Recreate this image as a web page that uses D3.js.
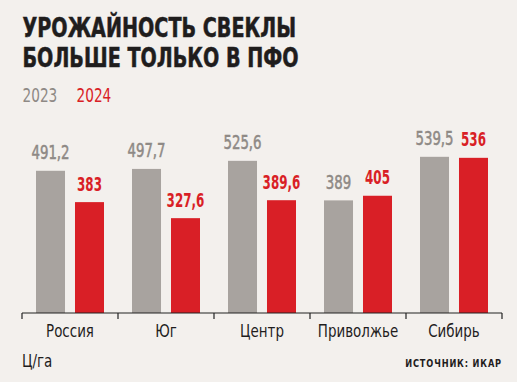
<!DOCTYPE html>
<html><head><meta charset="utf-8">
<script src="https://cdn.jsdelivr.net/npm/d3@7"></script>
<style>
html,body{margin:0;padding:0;background:#f3f0ed;}
svg{display:block;}
text{font-family:"DejaVu Sans Condensed","DejaVu Sans",sans-serif;}
</style></head>
<body>
<script>
const categories = ["Россия","Юг","Центр","Приволжье","Сибирь"];
const series = ["2023","2024"];
const values2023 = [491.2, 497.7, 525.6, 389, 539.5];
const values2024 = [383, 327.6, 389.6, 405, 536];
const valueLabels2023 = ["491,2","497,7","525,6","389","539,5"];
const valueLabels2024 = ["383","327,6","389,6","405","536"];
const titleLines = ["УРОЖАЙНОСТЬ СВЕКЛЫ","БОЛЬШЕ ТОЛЬКО В ПФО"];
const unitLabel = "Ц/га";
const sourceLabel = "ИСТОЧНИК: ИКАР";

const W=517,H=382;
const colors={"2023":"#a8a39f","2024":"#d91f26"};
const textColors={"2023":"#8e8985","2024":"#d91f26"};

const svg=d3.select("body").append("svg").attr("width",W).attr("height",H);
svg.append("rect").attr("width",W).attr("height",H).attr("fill","#f3f0ed");

// place text at (x,y) with horizontal condensing factor s
function place(sel, fx, fy, s){
  sel.attr("x",0).attr("y",0)
    .attr("transform",(d,i)=>`translate(${typeof fx==="function"?fx(d,i):fx},${typeof fy==="function"?fy(d,i):fy}) scale(${typeof s==="function"?s(d,i):s},1)`);
  return sel;
}

// title
place(svg.selectAll("text.title").data(titleLines).join("text").attr("class","title")
  .attr("font-size",26).attr("font-weight","bold").attr("fill","#1f1d1d")
  .attr("stroke","#1f1d1d").attr("stroke-width",0.5)
  .text(d=>d), 22.5, (d,i)=>37+i*30, 0.82);

// legend
place(svg.append("text").attr("font-size",19).attr("fill",textColors["2023"]).text(series[0]),22.5,101.5,0.8);
place(svg.append("text").attr("font-size",19).attr("fill",textColors["2024"]).text(series[1]),76.5,101.5,0.8);

const x=d3.scaleBand().domain(categories).range([22,502]).paddingInner(0).paddingOuter(0);
const xs=d3.scaleBand().domain(series).range([0,x.bandwidth()]).paddingInner(0.256).paddingOuter(0.359);
const y=d3.scaleLinear().domain([0,600]).range([313,313-173.7]);

const data=categories.map((c,i)=>({c,vals:[
  {s:"2023",v:values2023[i],l:valueLabels2023[i]},
  {s:"2024",v:values2024[i],l:valueLabels2024[i]}]}));

const g=svg.selectAll("g.cat").data(data).join("g").attr("class","cat")
  .attr("transform",d=>`translate(${x(d.c)},0)`);
g.selectAll("rect").data(d=>d.vals).join("rect")
  .attr("x",d=>xs(d.s)).attr("width",xs.bandwidth())
  .attr("y",d=>y(d.v)).attr("height",d=>y(0)-y(d.v))
  .attr("fill",d=>colors[d.s]);
place(g.selectAll("text.val").data(d=>d.vals).join("text").attr("class","val")
  .attr("text-anchor","middle").attr("font-size",19)
  .attr("font-weight",d=>d.s==="2024"?"bold":"normal")
  .attr("fill",d=>textColors[d.s])
  .attr("stroke",d=>d.s==="2023"?textColors[d.s]:"none").attr("stroke-width",0.5)
  .text(d=>d.l),
  d=>xs(d.s)+xs.bandwidth()/2, d=>y(d.v)-11.5, d=>d.s==="2024"?0.7:0.78);

// axis
const axis=svg.append("g").attr("transform","translate(0,313)");
axis.append("line").attr("x1",22).attr("x2",502).attr("stroke","#222").attr("stroke-width",1.2);
const tickPos=categories.map(c=>x(c)).concat([x.range()[1]]);
axis.selectAll("line.tick").data(tickPos).join("line").attr("class","tick")
  .attr("x1",d=>d).attr("x2",d=>d).attr("y1",0).attr("y2",6).attr("stroke","#222").attr("stroke-width",1.2);
place(axis.selectAll("text").data(categories).join("text")
  .attr("text-anchor","middle").attr("font-size",18).attr("fill","#1f1d1d").text(d=>d),
  d=>x(d)+x.bandwidth()/2, 23.5, 0.83);

place(svg.append("text").attr("font-size",17).attr("fill","#1f1d1d").text(unitLabel),22,366.5,0.88);
place(svg.append("text").attr("text-anchor","end").attr("font-size",10.5)
  .attr("font-weight","bold").attr("letter-spacing",1).attr("fill","#1f1d1d").text(sourceLabel),502,366.5,0.87);
</script>
</body></html>
